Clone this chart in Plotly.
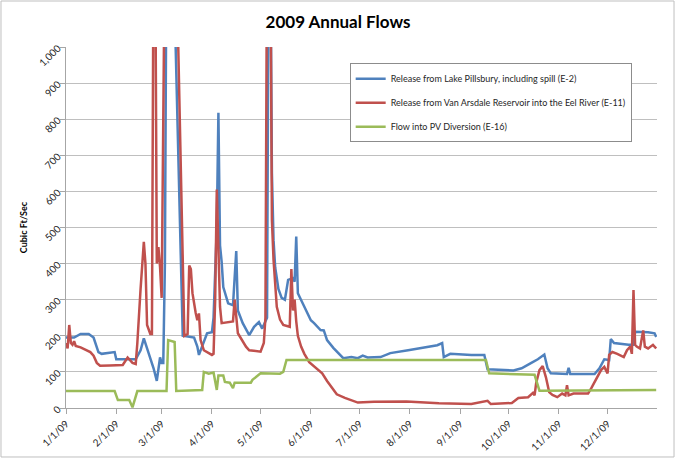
import pandas as pd
import plotly.graph_objects as go

# day-of-year offsets (0 = 1/1/09) and flows in cubic ft/sec
pillsbury_days = [0, 5, 9, 14, 17, 20, 22, 27, 30, 31, 43, 46, 48, 50, 52, 54, 56, 58, 59, 60,
                  61, 62, 66, 72, 79, 81, 82, 83, 85, 87, 90, 91, 93, 94, 95, 96, 97, 100, 103, 105,
                  106, 109, 113, 116, 119, 121, 124, 125, 126, 127, 128, 129, 130, 131, 133, 135, 137, 140, 141, 142,
                  143, 145, 148, 151, 153, 157, 159, 161, 165, 169, 171, 176, 180, 183, 186, 194, 200, 211, 219, 229,
                  232, 233, 237, 245, 250, 258, 260, 276, 281, 287, 291, 295, 297, 299, 306, 309, 310, 311, 326, 329,
                  332, 335, 336, 338, 347, 350, 351, 359, 363, 364]
pillsbury_cfs = [195, 195, 205, 205, 195, 155, 150, 152, 155, 135, 135, 160, 193, 165, 140, 110, 75, 140, 125, 125,
                 400, 1300, 1300, 200, 195, 170, 147, 160, 183, 207, 210, 250, 500, 818, 450, 405, 335, 290, 285, 435,
                 270, 235, 202, 225, 238, 220, 250, 1300, 1300, 650, 465, 390, 360, 330, 305, 300, 355, 360, 350, 475,
                 318, 300, 271, 243, 235, 216, 215, 188, 166, 147, 138, 141, 138, 145, 140, 141, 152, 160, 166, 174,
                 180, 141, 150, 148, 147, 147, 107, 104, 110, 125, 135, 148, 110, 96, 94, 94, 111, 94, 94, 110,
                 135, 133, 191, 180, 175, 175, 211, 210, 207, 197]

vanarsdale_days = [0, 1, 2, 3, 4, 5, 6, 9, 15, 17, 19, 21, 27, 35, 38, 40, 41, 43, 44, 46,
                   48, 49, 50, 52, 53, 54, 55, 56, 57, 58, 59, 61, 68, 69, 73, 75, 76, 77, 78, 80, 81,
                   82, 83, 85, 90, 91, 92, 93, 95, 96, 100, 103, 104, 105, 106, 111, 113, 120, 122, 123, 124,
                   126, 127, 128, 130, 132, 134, 138, 139, 140, 141, 142, 143, 145, 147, 150, 154, 158, 161, 163, 167,
                   172, 180, 190, 210, 230, 250, 260, 262, 275, 279, 285, 288, 289, 290, 292, 294, 296, 298, 300, 303,
                   306, 308, 309, 310, 313, 322, 324, 327, 330, 332, 334, 335, 337, 340, 344, 346, 348, 349, 350, 351,
                   352, 354, 356, 357, 359, 362, 364]
vanarsdale_cfs = [180, 165, 230, 180, 175, 185, 172, 168, 155, 145, 125, 117, 118, 119, 140, 130, 125, 122, 180, 330,
                  460, 400, 230, 205, 205, 1300, 1300, 400, 446, 391, 305, 1300, 1300, 1050, 200, 205, 395, 385, 318, 263, 243,
                  262, 188, 160, 147, 150, 300, 605, 280, 235, 238, 240, 300, 240, 207, 170, 160, 156, 180, 250, 1300,
                  1300, 520, 410, 280, 245, 230, 225, 385, 270, 300, 240, 200, 170, 150, 127, 111, 96, 75, 62, 38,
                  28, 15, 17, 18, 13, 11, 20, 11, 14, 28, 30, 42, 35, 70, 105, 116, 85, 44, 36, 30,
                  40, 35, 63, 35, 40, 40, 55, 78, 105, 114, 96, 147, 155, 150, 141, 160, 170, 150, 327, 175,
                  170, 165, 215, 170, 165, 175, 165]

pv_days = [0, 30, 32, 39, 41, 44, 62, 63, 67, 68, 84, 85, 88, 91, 93, 94, 97, 98, 101, 103,
           104, 114, 115, 120, 132, 134, 136, 259, 261, 279, 289, 292, 364]
pv_cfs = [47, 47, 22, 22, 2, 47, 47, 188, 183, 47, 50, 100, 95, 98, 50, 90, 90, 72, 70, 55,
          70, 70, 78, 96, 95, 100, 133, 133, 96, 93, 92, 48, 50]

tick_dates = ["2009-%02d-01" % m for m in range(1, 13)]
tick_labels = ["%d/1/09" % m for m in range(1, 13)]

start = pd.Timestamp("2009-01-01")


def to_dates(days):
    return [start + pd.Timedelta(days=d) for d in days]


series = [
    ("Release from Lake Pillsbury, including spill (E-2)", pillsbury_days, pillsbury_cfs, "#4F81BD"),
    ("Release from Van Arsdale Reservoir into the Eel River (E-11)", vanarsdale_days, vanarsdale_cfs, "#C0504D"),
    ("Flow into PV Diversion (E-16)", pv_days, pv_cfs, "#9BBB59"),
]

fig = go.Figure()
for i, (name, days, vals, color) in enumerate(series):
    fig.add_trace(go.Scatter(
        x=to_dates(days), y=vals, mode="lines", name=name,
        line=dict(color=color, width=2.5), legendgroup=str(i),
    ))

fig.update_layout(
    width=676, height=460,
    margin=dict(l=66, r=19, t=47, b=52, autoexpand=False),
    paper_bgcolor="white", plot_bgcolor="white",
    font=dict(family="Lato, Liberation Sans, sans-serif", size=10, color="#262626"),
    title=dict(text="<b>2009 Annual Flows</b>", x=0.5, xanchor="center",
               yref="container", y=0.952, yanchor="middle",
               font=dict(size=17, color="black")),
    legend=dict(x=0.48, y=0.955, xanchor="left", yanchor="top", bgcolor="white",
                bordercolor="#8C8C8C", borderwidth=1, traceorder="grouped", tracegroupgap=5,
                font=dict(size=9, color="#262626"), itemwidth=30),
    showlegend=True,
)

fig.update_xaxes(
    range=["2009-01-01", "2009-12-31 12:00"], automargin=False,
    tickvals=tick_dates, ticktext=tick_labels, tickangle=-45,
    showgrid=False, showline=True, linecolor="#A6A6A6", linewidth=1,
    ticks="outside", ticklen=5, tickcolor="#A6A6A6",
    tickfont=dict(size=10, color="#262626"),
)
fig.update_yaxes(
    range=[0, 1000], dtick=100, tickformat=",d", tickangle=-45, automargin=False,
    showgrid=True, gridcolor="#BFBFBF", gridwidth=1,
    showline=True, linecolor="#A6A6A6", linewidth=1,
    ticks="outside", ticklen=5, tickcolor="#A6A6A6",
    tickfont=dict(size=10, color="#262626"),
    title=dict(text="<b>Cubic Ft/Sec</b>", font=dict(size=9, color="black"), standoff=7),
    zeroline=False,
)

# chart area border
fig.add_shape(type="rect", xref="paper", yref="paper",
              x0=-0.11, x1=1.0288, y0=-0.1357, y1=1.1274,
              line=dict(color="#BFBFBF", width=1), fillcolor="rgba(0,0,0,0)", layer="below")

fig.write_html("out.html", config={"displayModeBar": False},
               post_script="document.body.style.margin='0';document.body.style.overflow='hidden';")
